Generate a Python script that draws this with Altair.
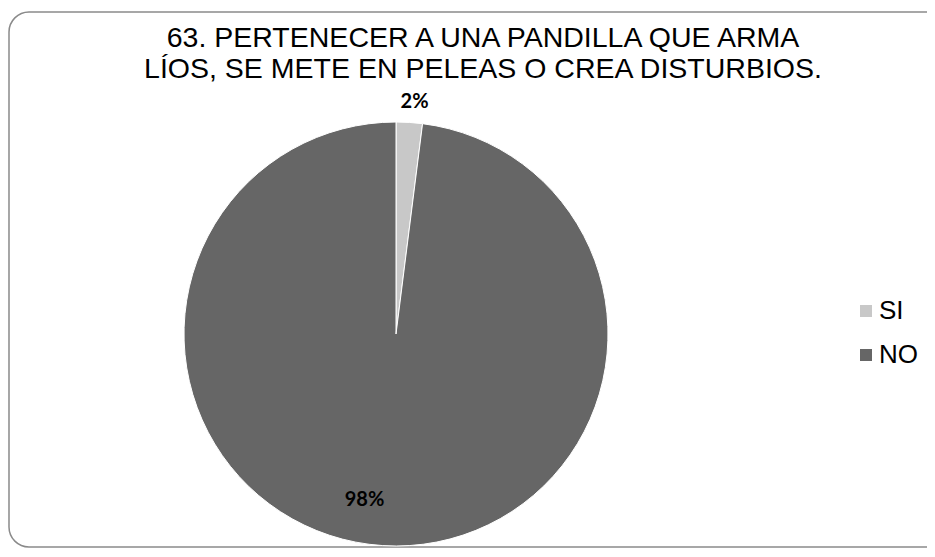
import altair as alt
import pandas as pd

categories = ["SI", "NO"]
values = [2, 98]
labels = ["2%", "98%"]
colors = ["#c8c8c8", "#666666"]
title_lines = ["63. PERTENECER A UNA PANDILLA QUE ARMA",
               "LÍOS, SE METE EN PELEAS O CREA DISTURBIOS."]

df = pd.DataFrame({"cat": categories, "val": values, "label": labels, "order": [0, 1]})

W, H = 919, 541
CX, CY, R = 388, 326, 212

border = alt.Chart(pd.DataFrame({"a": [0]})).mark_rect(
    cornerRadius=20, fillOpacity=0, stroke="#8a8a8a", strokeWidth=1.5
).encode(x=alt.value(1), x2=alt.value(940), y=alt.value(4), y2=alt.value(539))

title = alt.Chart(pd.DataFrame({"a": [0]})).mark_text(
    font="Liberation Sans", fontSize=28.5, color="black", align="center",
    baseline="alphabetic", lineHeight=31
).encode(x=alt.value(475), y=alt.value(39), text=alt.value(title_lines))

base = alt.Chart(df).encode(
    theta=alt.Theta("val:Q", stack=True),
    order=alt.Order("order:Q"),
)

pie = base.mark_arc(radius=R, stroke="white", strokeWidth=1).encode(
    x=alt.value(CX), y=alt.value(CY),
    color=alt.Color(
        "cat:N",
        scale=alt.Scale(domain=categories, range=colors),
        legend=alt.Legend(
            orient="none", legendX=845, legendY=290, title=None,
            symbolType="square", symbolSize=144, symbolStrokeWidth=0,
            labelFontSize=26, labelFont="Liberation Sans", labelColor="black",
            rowPadding=18, labelOffset=0, padding=0,
        ),
    ),
)

lab_si = base.mark_text(
    radius=232, font="Lato", fontWeight="bold", fontSize=20, color="black", dx=4
).encode(
    x=alt.value(CX), y=alt.value(CY),
    text=alt.condition("datum.cat == 'SI'", alt.Text("label:N"), alt.value("")),
)

lab_no = base.mark_text(
    radius=167, font="Lato", fontWeight="bold", fontSize=20, color="black", dx=-21, dy=-1
).encode(
    x=alt.value(CX), y=alt.value(CY),
    text=alt.condition("datum.cat == 'NO'", alt.Text("label:N"), alt.value("")),
)

chart = alt.layer(border, title, pie, lab_si, lab_no).properties(
    width=W, height=H, autosize="none", padding=0
).configure_view(stroke=None)

chart.save("out.html", embed_options={"renderer": "svg", "actions": False})
